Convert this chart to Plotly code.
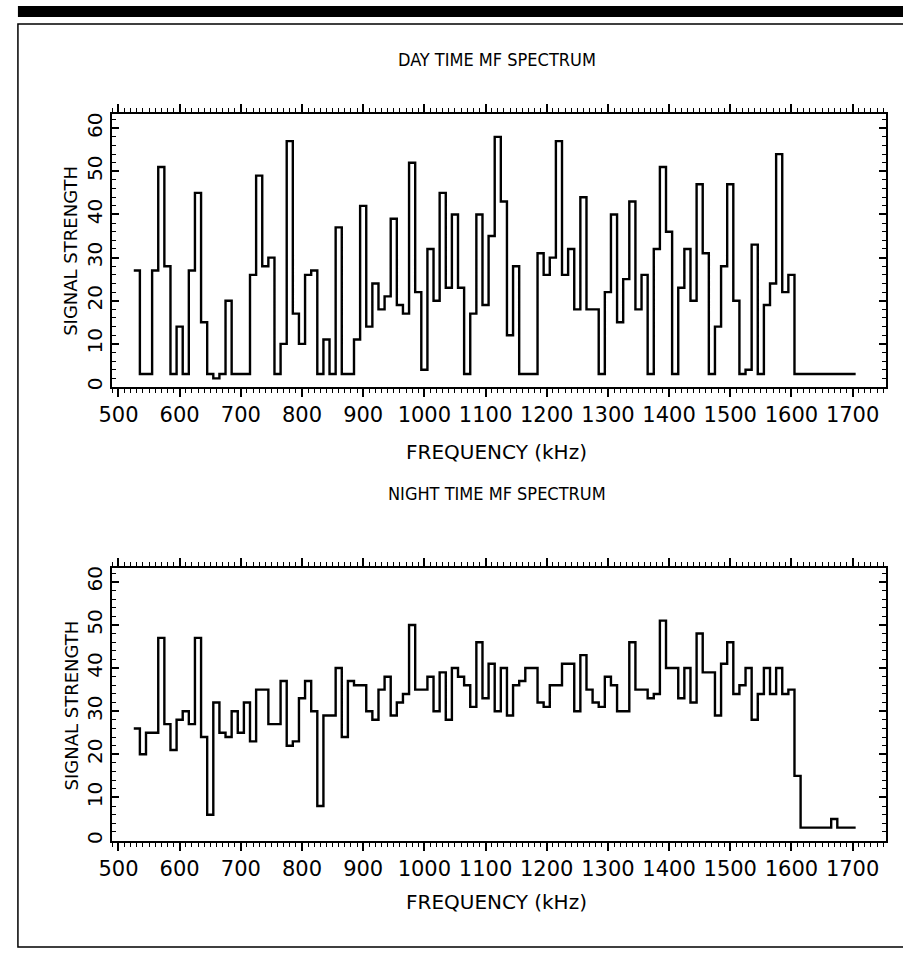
import plotly.graph_objects as go

# Channel centre frequencies (kHz), 10 kHz spacing
freqs = list(range(530, 1701, 10))

day_strength = [
    27, 3, 3, 27, 51, 28, 3, 14, 3, 27,      # 530-620
    45, 15, 3, 2, 3, 20, 3, 3, 3, 26,        # 630-720
    49, 28, 30, 3, 10, 57, 17, 10, 26, 27,   # 730-820
    3, 11, 3, 37, 3, 3, 11, 42, 14, 24,      # 830-920
    18, 21, 39, 19, 17, 52, 22, 4, 32, 20,   # 930-1020
    45, 23, 40, 23, 3, 17, 40, 19, 35, 58,   # 1030-1120
    43, 12, 28, 3, 3, 3, 31, 26, 30, 57,     # 1130-1220
    26, 32, 18, 44, 18, 18, 3, 22, 40, 15,   # 1230-1320
    25, 43, 18, 26, 3, 32, 51, 36, 3, 23,    # 1330-1420
    32, 20, 47, 31, 3, 14, 28, 47, 20, 3,    # 1430-1520
    4, 33, 3, 19, 24, 54, 22, 26, 3, 3,      # 1530-1620
    3, 3, 3, 3, 3, 3, 3, 3,                  # 1630-1700
]

night_strength = [
    26, 20, 25, 25, 47, 27, 21, 28, 30, 27,  # 530-620
    47, 24, 6, 32, 25, 24, 30, 25, 32, 23,   # 630-720
    35, 35, 27, 27, 37, 22, 23, 33, 37, 30,  # 730-820
    8, 29, 29, 40, 24, 37, 36, 36, 30, 28,   # 830-920
    35, 38, 29, 32, 34, 50, 35, 35, 38, 30,  # 930-1020
    39, 28, 40, 38, 36, 31, 46, 33, 41, 30,  # 1030-1120
    40, 29, 36, 37, 40, 40, 32, 31, 36, 36,  # 1130-1220
    41, 41, 30, 43, 35, 32, 31, 38, 36, 30,  # 1230-1320
    30, 46, 35, 35, 33, 34, 51, 40, 40, 33,  # 1330-1420
    40, 32, 48, 39, 39, 29, 41, 46, 34, 36,  # 1430-1520
    40, 28, 34, 40, 34, 40, 34, 35, 15, 3,   # 1530-1620
    3, 3, 3, 3, 5, 3, 3, 3,                  # 1630-1700
]

x_ticks = list(range(500, 1701, 100))
y_ticks = [0, 10, 20, 30, 40, 50, 60]

CHANNEL_WIDTH = 10
W, H = 903, 953


def step_xy(f, v):
    xs = [c - CHANNEL_WIDTH / 2 for c in f] + [f[-1] + CHANNEL_WIDTH / 2]
    ys = list(v) + [v[-1]]
    return xs, ys


fig = go.Figure()
for vals, xa, ya in [(day_strength, "x", "y"), (night_strength, "x2", "y2")]:
    xs, ys = step_xy(freqs, vals)
    fig.add_trace(go.Scatter(x=xs, y=ys, mode="lines", line_shape="hv",
                             line=dict(color="black", width=2.4),
                             xaxis=xa, yaxis=ya, showlegend=False,
                             hoverinfo="skip"))

TITLE_FONT = "Liberation Sans Narrow, DejaVu Sans Condensed, Liberation Sans, Arial"
WIDE_FONT = "DejaVu Sans, Verdana, sans-serif"

xcommon = dict(range=[488.7, 1755], tickvals=x_ticks, ticktext=[str(t) for t in x_ticks],
               ticks="outside", ticklen=8, tickwidth=1.5, tickcolor="black",
               showline=True, linewidth=2, linecolor="black", mirror="ticks",
               showgrid=False, zeroline=False,
               minor=dict(dtick=10, tick0=500, ticks="outside", ticklen=4,
                          tickwidth=1, tickcolor="black", showgrid=False),
               tickfont=dict(family=WIDE_FONT, size=21, color="black"))
ycommon = dict(range=[0, 63.2], tickvals=y_ticks, ticktext=[str(t) for t in y_ticks],
               ticks="inside", ticklen=7, tickwidth=1.5, tickcolor="black",
               showline=True, linewidth=2, linecolor="black", mirror="ticks",
               showgrid=False, zeroline=False, tickangle=-90,
               minor=dict(dtick=2, tick0=0, ticks="inside", ticklen=4,
                          tickwidth=1, tickcolor="black", showgrid=False),
               tickfont=dict(family=WIDE_FONT, size=20, color="black"))

xd = [100 / W, 886 / W]
day_dom = [1 - 387 / H, 1 - 113 / H]
night_dom = [1 - 843 / H, 1 - 569 / H]

fig.update_layout(
    width=W, height=H, margin=dict(l=0, r=0, t=0, b=0),
    paper_bgcolor="white", plot_bgcolor="white",
    xaxis=dict(domain=xd, anchor="y", **xcommon),
    yaxis=dict(domain=day_dom, anchor="x", **ycommon),
    xaxis2=dict(domain=xd, anchor="y2", **xcommon),
    yaxis2=dict(domain=night_dom, anchor="x2", **ycommon),
)

texts = [
    ("DAY TIME MF SPECTRUM", 491, 58, 0, TITLE_FONT, 18),
    ("FREQUENCY (kHz)", 491, 452, 0, WIDE_FONT, 20),
    ("NIGHT TIME MF SPECTRUM", 491, 494, 0, TITLE_FONT, 18),
    ("FREQUENCY (kHz)", 491, 905, 0, WIDE_FONT, 20),
    ("SIGNAL STRENGTH", 59, 250, -90, WIDE_FONT, 18),
    ("SIGNAL STRENGTH", 59, 707, -90, WIDE_FONT, 18),
]
for t, px, py, ang, fam, sz in texts:
    fig.add_annotation(text=t, x=px / W, y=1 - py / H, xref="paper", yref="paper",
                       showarrow=False, textangle=ang, xanchor="center", yanchor="middle",
                       font=dict(family=fam, size=sz, color="black"))

# page decorations: thick rule on top and thin border box
fig.add_shape(type="rect", xref="paper", yref="paper", x0=5 / W, x1=1.0,
              y0=1 - 15 / H, y1=1 - 4 / H, fillcolor="black", line=dict(width=0))
fig.add_shape(type="rect", xref="paper", yref="paper", x0=5 / W, x1=1.05,
              y0=1 - 950 / H, y1=1 - 22 / H, line=dict(color="black", width=1.5))

fig.write_html("out.html", config={"displayModeBar": False},
               post_script="document.body.style.margin='0px';")
